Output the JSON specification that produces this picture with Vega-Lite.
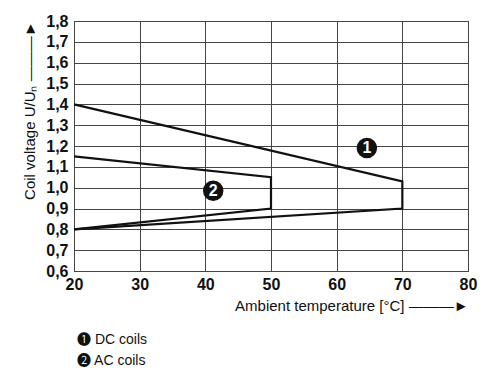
{
  "$schema": "https://vega.github.io/schema/vega-lite/v6.json",
  "width": 394,
  "height": 250,
  "autosize": {"type": "none"},
  "padding": {"left": 74, "top": 21, "right": 32, "bottom": 116},
  "background": "white",
  "config": {
    "font": "Liberation Sans",
    "view": {"stroke": "#444", "strokeWidth": 1},
    "axis": {"labelOverlap": false, "labelFlush": false}
  },
  "title": {
    "text": ["❶ DC coils", "❷ AC coils"],
    "orient": "bottom",
    "anchor": "start",
    "frame": "group",
    "offset": 20,
    "dx": 3,
    "fontSize": 14,
    "fontWeight": "normal",
    "lineHeight": 21,
    "color": "#111",
    "font": "Liberation Sans, Noto Sans CJK JP"
  },
  "datasets": {
    "curves": [
      {"series": "DC", "ord": 1, "t": 20, "u": 1.4},
      {"series": "DC", "ord": 2, "t": 70, "u": 1.03},
      {"series": "DC", "ord": 3, "t": 70, "u": 0.9},
      {"series": "DC", "ord": 4, "t": 20, "u": 0.8},
      {"series": "AC", "ord": 1, "t": 20, "u": 1.15},
      {"series": "AC", "ord": 2, "t": 50, "u": 1.05},
      {"series": "AC", "ord": 3, "t": 50, "u": 0.9},
      {"series": "AC", "ord": 4, "t": 20, "u": 0.8}
    ],
    "marks": [
      {"label": "1", "t": 64.6, "u": 1.19},
      {"label": "2", "t": 41.2, "u": 0.985}
    ]
  },
  "encoding": {
    "x": {
      "field": "t", "type": "quantitative",
      "scale": {"domain": [20, 80], "nice": false, "zero": false},
      "axis": {
        "values": [20, 30, 40, 50, 60, 70, 80],
        "title": "Ambient temperature [°C]  ———►",
        "titleAnchor": "end",
        "titleFont": "Liberation Sans",
        "titleFontSize": 15,
        "titleFontWeight": "normal",
        "titleColor": "#111",
        "titlePadding": 6,
        "labelFont": "Liberation Sans",
        "labelFontSize": 16,
        "labelFontWeight": "bold",
        "labelColor": "#111",
        "labelPadding": 5,
        "labelOverlap": false,
        "labelFlush": false,
        "ticks": false,
        "domainColor": "#444",
        "gridColor": "#444",
        "gridOpacity": 1,
        "gridWidth": 1
      }
    },
    "y": {
      "field": "u", "type": "quantitative",
      "scale": {"domain": [0.6, 1.8], "nice": false, "zero": false},
      "axis": {
        "values": [0.6, 0.7, 0.8, 0.9, 1.0, 1.1, 1.2, 1.3, 1.4, 1.5, 1.6, 1.7, 1.8],
        "labelExpr": "replace(format(datum.value, '.1f'), '.', ',')",
        "title": "Coil voltage U/Uₙ  ———►",
        "titleAnchor": "end",
        "titleFont": "Liberation Sans",
        "titleFontSize": 15,
        "titleFontWeight": "normal",
        "titleColor": "#111",
        "titlePadding": 8,
        "labelFont": "Liberation Sans",
        "labelFontSize": 16,
        "labelFontWeight": "bold",
        "labelColor": "#111",
        "labelPadding": 6,
        "labelOverlap": false,
        "labelFlush": false,
        "ticks": false,
        "domainColor": "#444",
        "gridColor": "#444",
        "gridOpacity": 1,
        "gridWidth": 1
      }
    }
  },
  "layer": [
    {
      "data": {"name": "curves"},
      "mark": {"type": "line", "color": "#111", "strokeWidth": 2.2},
      "encoding": {
        "detail": {"field": "series"},
        "order": {"field": "ord"}
      }
    },
    {
      "data": {"name": "marks"},
      "mark": {"type": "point", "filled": true, "color": "#111", "size": 420, "opacity": 1},
      "encoding": {}
    },
    {
      "data": {"name": "marks"},
      "mark": {"type": "text", "color": "white", "fontSize": 16, "fontWeight": "bold", "baseline": "middle", "align": "center", "font": "Liberation Sans"},
      "encoding": {
        "text": {"field": "label"}
      }
    }
  ]
}
